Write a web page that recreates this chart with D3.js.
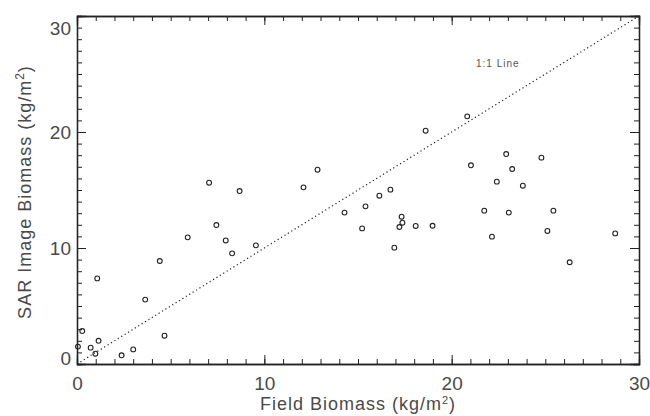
<!DOCTYPE html>
<html>
<head>
<meta charset="utf-8">
<script src="https://cdn.jsdelivr.net/npm/d3@7"></script>
<style>
  body { margin: 0; background: #fff; }
  text { font-family: "Liberation Sans", Arial, sans-serif; }
</style>
</head>
<body>
<script>
// Données
const fieldBiomass = [0.05, 0.28, 0.73, 0.98, 1.15, 1.08, 2.38, 3.0, 3.64, 4.67, 4.42, 5.91,
    7.05, 7.44, 7.94, 8.28, 9.55, 8.68, 12.09, 12.84, 14.28, 15.22, 15.40, 16.14, 16.73,
    16.94, 17.21, 17.37, 17.33, 18.08, 18.98, 18.61, 20.83, 21.03, 21.74, 22.15, 22.41,
    22.91, 23.05, 23.23, 23.8, 24.79, 25.43, 25.11, 26.3, 28.73];
const sarBiomass = [1.5, 2.84, 1.41, 0.89, 2.0, 7.38, 0.75, 1.26, 5.55, 2.44, 8.88, 10.92,
    15.63, 11.98, 10.65, 9.54, 10.23, 14.91, 15.23, 16.75, 13.05, 11.69, 13.59, 14.51, 15.03,
    10.03, 11.81, 12.18, 12.7, 11.9, 11.92, 20.11, 21.35, 17.13, 13.22, 10.98, 15.72,
    18.1, 13.05, 16.81, 15.37, 17.79, 13.22, 11.47, 8.77, 11.26];
const majorTicks = [0, 10, 20, 30];
const minorTicks = d3.range(0, 31, 1);
const oneToOne = [0, 30];

const width = 650;
const height = 416;
const margin = { left: 77, right: 11, top: 16, bottom: 52 };

const svg = d3.select("body").append("svg")
    .attr("width", width)
    .attr("height", height);

const x = d3.scaleLinear().domain([0, 30]).range([margin.left, width - margin.right]);
const y = d3.scaleLinear().domain([0, 30]).range([height - margin.bottom, margin.top]);

const ink = "#222";
const textInk = "#4a4a4a";

// axes : graduations vers l'intérieur sur les 4 côtés
function drawAxis(axisFn, scale, translate, showLabels, padding) {
    const gMinor = svg.append("g").attr("transform", translate)
        .call(axisFn(scale).tickValues(minorTicks).tickSize(-5).tickFormat(""));
    const gMajor = svg.append("g").attr("transform", translate)
        .call(axisFn(scale).tickValues(majorTicks).tickSize(-9).tickPadding(padding)
            .tickFormat(showLabels ? d3.format("d") : ""));
    [gMinor, gMajor].forEach(g => {
        g.selectAll("path.domain").attr("stroke", ink).attr("stroke-width", 1.3);
        g.selectAll(".tick line").attr("stroke", ink).attr("stroke-width", 1);
        g.selectAll("text")
            .attr("font-size", 19)
            .attr("fill", textInk);
    });
    return gMajor;
}

drawAxis(d3.axisBottom, x, `translate(0,${y(0)})`, true, 13);
drawAxis(d3.axisTop, x, `translate(0,${y(30)})`, false, 0);
const yAxis = drawAxis(d3.axisLeft, y, `translate(${x(0)},0)`, true, 6);
drawAxis(d3.axisRight, y, `translate(${x(30)},0)`, false, 0);

// les étiquettes extrêmes restent dans le cadre
yAxis.selectAll(".tick text")
    .attr("dy", d => d === 30 ? "0.95em" : d === 0 ? "0.05em" : "0.32em");

// droite 1:1
svg.append("line")
    .attr("x1", x(oneToOne[0])).attr("y1", y(oneToOne[0]))
    .attr("x2", x(oneToOne[1])).attr("y2", y(oneToOne[1]))
    .attr("stroke", ink)
    .attr("stroke-width", 1.2)
    .attr("stroke-dasharray", "1.2,2.8");

svg.append("text")
    .attr("x", x(21.3)).attr("y", y(25.6))
    .attr("font-size", 10)
    .attr("letter-spacing", 1)
    .attr("fill", "#555")
    .text("1:1 Line");

// points
svg.append("g")
    .selectAll("circle")
    .data(fieldBiomass.map((d, i) => [d, sarBiomass[i]]))
    .join("circle")
    .attr("cx", d => x(d[0]))
    .attr("cy", d => y(d[1]))
    .attr("r", 2.4)
    .attr("fill", "none")
    .attr("stroke", ink)
    .attr("stroke-width", 1.1);

// titres des axes
const xTitle = svg.append("text")
    .attr("x", (x(0) + x(30)) / 2)
    .attr("y", 410)
    .attr("text-anchor", "middle")
    .attr("font-size", 18)
    .attr("letter-spacing", 1)
    .attr("fill", textInk);
xTitle.append("tspan").text("Field Biomass (kg/m");
xTitle.append("tspan").attr("dy", -6).attr("font-size", 11).text("2");
xTitle.append("tspan").attr("dy", 6).text(")");

const yTitle = svg.append("text")
    .attr("transform", `translate(31,${(y(0) + y(30)) / 2 + 2}) rotate(-90)`)
    .attr("text-anchor", "middle")
    .attr("font-size", 18)
    .attr("letter-spacing", 1)
    .attr("fill", textInk);
yTitle.append("tspan").text("SAR Image Biomass (kg/m");
yTitle.append("tspan").attr("dy", -7).attr("font-size", 12).text("2");
yTitle.append("tspan").attr("dy", 7).text(")");
</script>
</body>
</html>
